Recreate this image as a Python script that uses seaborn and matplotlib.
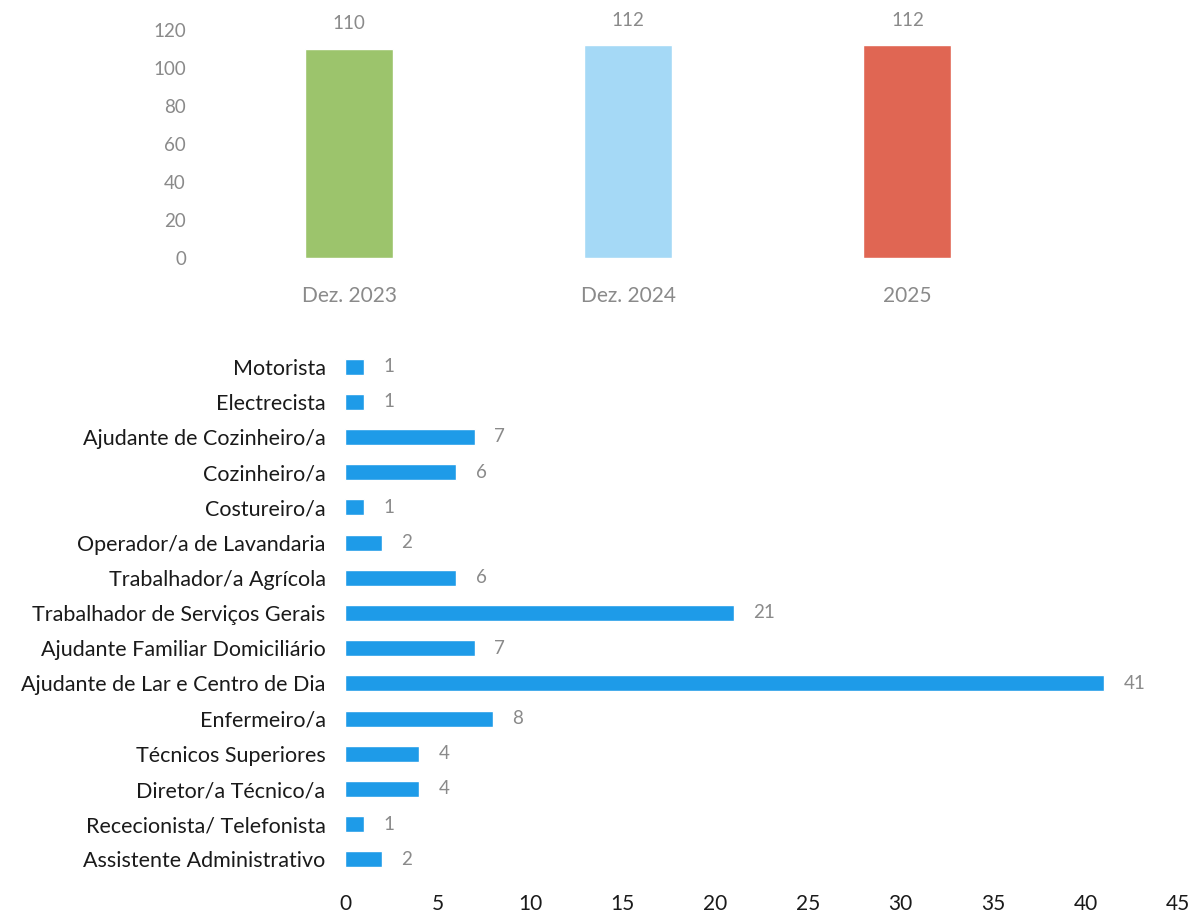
import matplotlib
matplotlib.use("Agg")
import matplotlib.pyplot as plt
import seaborn as sns
import pandas as pd

# top chart: total staff
periods = ["Dez. 2023", "Dez. 2024", "2025"]
totals = [110, 112, 112]
period_colors = ["#9cc46c", "#a5d9f6", "#e06653"]

# bottom chart: staff per job
jobs = [
    "Motorista",
    "Electrecista",
    "Ajudante de Cozinheiro/a",
    "Cozinheiro/a",
    "Costureiro/a",
    "Operador/a de Lavandaria",
    "Trabalhador/a Agrícola",
    "Trabalhador de Serviços Gerais",
    "Ajudante Familiar Domiciliário",
    "Ajudante de Lar e Centro de Dia",
    "Enfermeiro/a",
    "Técnicos Superiores",
    "Diretor/a Técnico/a",
    "Rececionista/ Telefonista",
    "Assistente Administrativo",
]
counts = [1, 1, 7, 6, 1, 2, 6, 21, 7, 41, 8, 4, 4, 1, 2]

sns.set_style("white")
plt.rcParams["font.family"] = ["Lato", "DejaVu Sans"]

W, H = 1192, 919
fig = plt.figure(figsize=(W / 100, H / 100), dpi=100)

gray = "#8a8a8a"

# ---- top
ax1 = fig.add_axes([209.5 / W, 1 - 258 / H, 837.5 / W, 228 / H])
df_top = pd.DataFrame({"period": periods, "total": totals})
sns.barplot(data=df_top, x="period", y="total", hue="period", palette=period_colors,
            width=0.315, saturation=1, legend=False, ax=ax1)
ax1.set_ylim(0, 120)
ax1.set_xlim(-0.5, 2.5)
ax1.set_yticks(range(0, 121, 20))
ax1.tick_params(axis="y", labelsize=13.5, labelcolor=gray, length=0, pad=17)
ax1.tick_params(axis="x", labelsize=15, labelcolor=gray, length=0, pad=20)
ax1.set_xlabel("")
ax1.set_ylabel("")
for c in ax1.containers:
    ax1.bar_label(c, labels=[str(int(v)) for v in c.datavalues], padding=12,
                  fontsize=13.5, color=gray)
sns.despine(ax=ax1, left=True, bottom=True)

# ---- bottom
ax2 = fig.add_axes([345 / W, 1 - 877 / H, 833 / W, 528 / H])
df_jobs = pd.DataFrame({"job": jobs, "n": counts})
sns.barplot(data=df_jobs, y="job", x="n", orient="h", color="#1e9be8",
            width=0.45, saturation=1, ax=ax2)
ax2.set_xlim(0, 45)
ax2.set_xticks(range(0, 46, 5))
ax2.tick_params(axis="x", labelsize=15, labelcolor="#1a1a1a", length=0, pad=12)
ax2.tick_params(axis="y", labelsize=15.5, labelcolor="#1a1a1a", length=0, pad=14)
ax2.set_xlabel("")
ax2.set_ylabel("")
for c in ax2.containers:
    ax2.bar_label(c, labels=[str(int(v)) for v in c.datavalues], padding=14,
                  fontsize=13.5, color=gray)
sns.despine(ax=ax2, left=True, bottom=True)

fig.savefig("out.png", dpi=100, facecolor="white")
